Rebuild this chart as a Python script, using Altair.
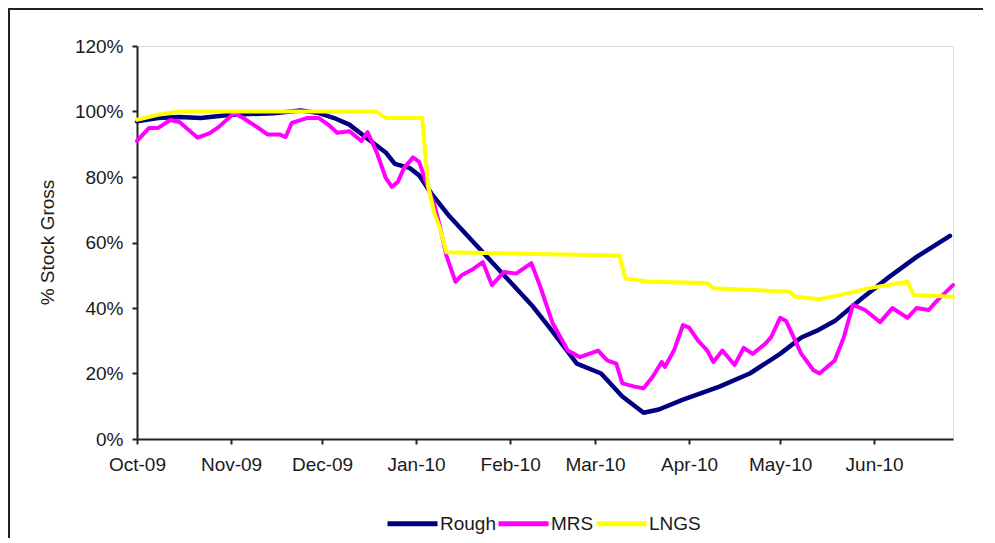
import altair as alt
import pandas as pd

# ---- data (values in %) ----
rough_dates = ["2009-10-01", "2009-10-08", "2009-10-15", "2009-10-22", "2009-11-01", "2009-11-15",
               "2009-11-24", "2009-11-30", "2009-12-05", "2009-12-10", "2009-12-17", "2009-12-22",
               "2009-12-25", "2009-12-30", "2010-01-02", "2010-01-06", "2010-01-12", "2010-01-22",
               "2010-01-30", "2010-02-08", "2010-02-14", "2010-02-23", "2010-03-03", "2010-03-10",
               "2010-03-17", "2010-03-22", "2010-03-30", "2010-04-05", "2010-04-11", "2010-04-21",
               "2010-05-01", "2010-05-08", "2010-05-13", "2010-05-19", "2010-05-28", "2010-06-06",
               "2010-06-15", "2010-06-26"]
rough_values = [97, 98, 98.3, 98, 99, 99.5,
                100.3, 99.5, 98, 96, 91, 87.5,
                84, 82.7, 80.5, 75, 68, 58,
                50, 41, 34, 23, 20, 13,
                8, 9, 12, 14, 16, 20,
                26, 31, 33, 36, 43, 49.5,
                55.6, 62]

mrs_dates = ["2009-10-01", "2009-10-02", "2009-10-05", "2009-10-08", "2009-10-12", "2009-10-15",
             "2009-10-21", "2009-10-25", "2009-10-28", "2009-11-02", "2009-11-05", "2009-11-10",
             "2009-11-13", "2009-11-17", "2009-11-19", "2009-11-21", "2009-11-26", "2009-11-30",
             "2009-12-03", "2009-12-06", "2009-12-10", "2009-12-14", "2009-12-16", "2009-12-19",
             "2009-12-22", "2009-12-24", "2009-12-26", "2009-12-28", "2009-12-31", "2010-01-02",
             "2010-01-05", "2010-01-07", "2010-01-09", "2010-01-11", "2010-01-14", "2010-01-16",
             "2010-01-20", "2010-01-23", "2010-01-26", "2010-01-30", "2010-02-03", "2010-02-08",
             "2010-02-11", "2010-02-15", "2010-02-20", "2010-02-24", "2010-03-02", "2010-03-05",
             "2010-03-08", "2010-03-10", "2010-03-14", "2010-03-17", "2010-03-20", "2010-03-23",
             "2010-03-24", "2010-03-27", "2010-03-30", "2010-04-01", "2010-04-04", "2010-04-07",
             "2010-04-09", "2010-04-12", "2010-04-16", "2010-04-19", "2010-04-22", "2010-04-26",
             "2010-04-28", "2010-05-01", "2010-05-03", "2010-05-08", "2010-05-12", "2010-05-14",
             "2010-05-19", "2010-05-22", "2010-05-25", "2010-05-29", "2010-06-03", "2010-06-07",
             "2010-06-12", "2010-06-15", "2010-06-19", "2010-06-21", "2010-06-23", "2010-06-27"]
mrs_values = [91, 92, 95, 95, 97.4, 96.8,
              92, 93.4, 95.3, 99.5, 98, 95,
              93, 93, 92.2, 96.5, 98, 98,
              96, 93.5, 94, 91, 93.7, 87.6,
              79.7, 77, 78.5, 82.7, 86, 84.6,
              76.6, 71.5, 64.4, 56, 48, 50,
              52, 54, 47, 51, 50.5, 53.7,
              46.4, 35.4, 27, 25, 27, 24,
              23, 17, 16, 15.5, 19, 23.5,
              22, 27, 34.8, 34, 30, 27,
              23.5, 27, 22.6, 27.8, 26, 29,
              31, 37, 36, 26, 21, 20,
              24, 31, 41, 39.4, 35.7, 40,
              37, 40, 39.4, 41.5, 43.4, 47]

lngs_dates = ["2009-10-01", "2009-10-08", "2009-10-15", "2009-12-19", "2009-12-22", "2010-01-03",
              "2010-01-05", "2010-01-07", "2010-01-09", "2010-01-11", "2010-03-09", "2010-03-11",
              "2010-03-19", "2010-04-07", "2010-04-09", "2010-05-04", "2010-05-06", "2010-05-14",
              "2010-05-21", "2010-05-30", "2010-06-12", "2010-06-14", "2010-06-27"]
lngs_values = [97.5, 99, 100, 100, 98, 98,
               77, 69, 64, 57, 56, 49,
               48, 47.6, 46, 45, 43.4, 42.7,
               44, 46, 48, 44, 43.4]

series_names = ["Rough", "MRS", "LNGS"]
series_colors = ["#000080", "#ff00ff", "#ffff00"]
series_widths = [4.5, 4, 4]

month_ticks = ["2009-10-01", "2009-11-01", "2009-12-01", "2010-01-01", "2010-02-01",
               "2010-03-01", "2010-04-01", "2010-05-01", "2010-06-01"]
x_start = "2009-10-01"
x_end = "2010-06-27"
y_ticks = [0, 0.2, 0.4, 0.6, 0.8, 1.0, 1.2]

# ---- build table ----
rows = []
for name, dates, vals in zip(series_names, [rough_dates, mrs_dates, lngs_dates],
                             [rough_values, mrs_values, lngs_values]):
    for d, v in zip(dates, vals):
        rows.append({"series": name, "date": pd.Timestamp(d), "value": v / 100.0})
df = pd.DataFrame(rows)


def dt(s):
    t = pd.Timestamp(s)
    return alt.DateTime(year=t.year, month=t.month, date=t.day)


FONT = "Liberation Sans"
TXT = "#1a1a1a"

x_enc = alt.X(
    "date:T",
    scale=alt.Scale(domain=[dt(x_start), dt(x_end)]),
    axis=alt.Axis(values=[dt(m) for m in month_ticks], format="%b-%y", title=None,
                  grid=False, domainColor="#222", domainWidth=2, tickColor="#222",
                  tickWidth=2, tickSize=5, labelPadding=11, labelFontSize=19,
                  labelColor=TXT, labelFont=FONT, labelFlush=False, labelOverlap=False),
)
y_enc = alt.Y(
    "value:Q",
    scale=alt.Scale(domain=[0, 1.2], nice=False),
    axis=alt.Axis(values=y_ticks, format=".0%", title="% Stock Gross", grid=False,
                  domainColor="#222", domainWidth=2, tickColor="#222", tickWidth=2,
                  tickSize=5, labelPadding=9, labelFontSize=19, labelColor=TXT,
                  labelFont=FONT, titleFontSize=19, titleFontWeight="normal",
                  titleColor=TXT, titleFont=FONT, titleAngle=270, titleX=-90,
                  titleY=196, titleAlign="center", titleBaseline="middle"),
)
color_enc = alt.Color(
    "series:N",
    scale=alt.Scale(domain=series_names, range=series_colors),
    legend=alt.Legend(title=None, orient="none", legendX=248, legendY=450,
                      direction="horizontal", symbolType="stroke", symbolSize=2500,
                      symbolStrokeWidth=5, labelFontSize=19, labelFont=FONT,
                      labelColor=TXT, columnPadding=-9, labelOffset=0, padding=0),
)

layers = []
for name, w in zip(series_names, series_widths):
    layers.append(
        alt.Chart(df)
        .transform_filter(alt.datum.series == name)
        .mark_line(strokeWidth=w, strokeJoin="round", strokeCap="round")
        .encode(x=x_enc, y=y_enc, color=color_enc)
    )

frame = (
    alt.Chart(pd.DataFrame({"f": [0]}))
    .mark_rect(filled=False, stroke="#222", strokeWidth=2)
    .encode(x=alt.value(-128), x2=alt.value(1100), y=alt.value(-37), y2=alt.value(800))
)

chart = (
    alt.layer(frame, *layers)
    .properties(width=816, height=393, autosize=alt.AutoSizeParams(type="none"),
                padding={"left": 129, "top": 38, "right": 30, "bottom": 99},
                background="white")
    .configure_view(stroke=None)
    .configure(font=FONT)
)

chart.save("out.html", embed_options={"renderer": "svg", "actions": False})
